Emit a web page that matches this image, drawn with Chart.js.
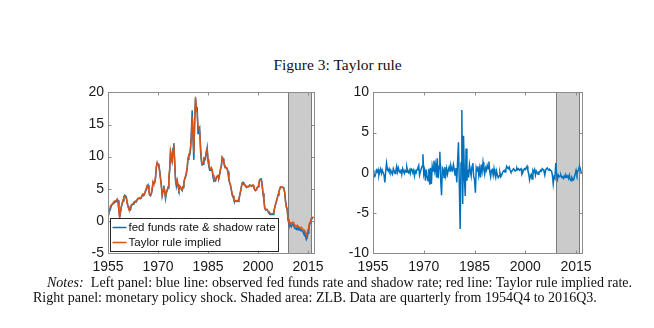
<!DOCTYPE html>
<html>
<head>
<meta charset="utf-8">
<script src="https://cdn.jsdelivr.net/npm/chart.js@4.4.1/dist/chart.umd.min.js"></script>
<style>
    html, body { margin: 0; padding: 0; background: #fff; }
    body { width: 654px; height: 328px; position: relative; overflow: hidden; }
    canvas { position: absolute; }
    #leftPanel { left: 40px; top: 80px; }
    #rightPanel { left: 330px; top: 80px; }
    .caption { position: absolute; font-family: "Liberation Serif", serif; color: #111; white-space: nowrap; }
    #title { left: 0; width: 675px; top: 56px; text-align: center; font-size: 15.5px; line-height: 18px; }
    #note1 { left: 47px; top: 274px; font-size: 13px; line-height: 16px; }
    #note2 { left: 33px; top: 289px; font-size: 13px; line-height: 16px; }
</style>
</head>
<body>
<div id="title" class="caption">Figure 3: Taylor rule</div>
<canvas id="leftPanel" width="290" height="200"></canvas>
<canvas id="rightPanel" width="270" height="200"></canvas>
<div id="note1" class="caption"><i>Notes:</i>&nbsp; Left panel: blue line: observed fed funds rate and shadow rate; red line: Taylor rule implied rate.</div>
<div id="note2" class="caption">Right panel: monetary policy shock. Shaded area: ZLB. Data are quarterly from 1954Q4 to 2016Q3.</div>

<script>
// Quarterly sample 1954Q4 - 2016Q3, each quarter plotted at its end
const sampleStart = 1955;

const xTicks = [1955, 1970, 1985, 2000, 2015];
const leftTicks = [-5, 0, 5, 10, 15, 20];
const rightTicks = [-10, -5, 0, 5, 10];

// ZLB period (2008Q4 - 2015Q4)
const zlbSpan = [2009, 2016];

const seriesLabels = ['fed funds rate & shadow rate', 'Taylor rule implied'];

// fed funds rate, shadow rate during the ZLB
const fedFunds = [
    1.0,
    1.35, 1.5, 1.9, 2.35,
    2.5, 2.7, 2.8, 2.95,
    2.95, 3.0, 3.25, 3.2,
    1.85, 0.7, 1.3, 2.15,
    2.6, 3.1, 3.6, 4.0,
    3.9, 3.7, 2.9, 2.3,
    2.0, 1.7, 1.7, 2.4,
    2.5, 2.6, 2.85, 2.9,
    2.95, 2.95, 3.3, 3.45,
    3.45, 3.5, 3.45, 3.6,
    3.95, 4.1, 4.05, 4.2,
    4.6, 4.9, 5.4, 5.6,
    4.8, 4.0, 3.9, 4.2,
    4.8, 6.0, 5.9, 5.9,
    6.6, 8.3, 9.0, 8.9,
    8.6, 7.9, 6.7, 5.6,
    3.9, 4.6, 5.5, 4.8,
    3.5, 4.3, 4.7, 5.1,
    6.5, 7.8, 10.6, 10.0,
    9.3, 11.3, 12.1, 9.4,
    6.3, 5.4, 6.2, 5.4,
    4.8, 5.2, 5.3, 4.9,
    4.7, 5.2, 5.8, 6.5,
    6.8, 7.3, 8.1, 9.6,
    10.1, 10.2, 11.0, 13.6,
    17.2, 12.7, 9.5, 15.9,
    19.0, 17.8, 17.6, 13.6,
    14.2, 14.5, 11.0, 9.3,
    8.7, 8.8, 9.5, 9.4,
    9.7, 10.6, 11.4, 9.3,
    8.5, 7.9, 7.9, 8.1,
    7.8, 6.9, 6.2, 6.3,
    6.2, 6.7, 6.8, 6.9,
    6.7, 7.2, 8.0, 8.5,
    9.9, 9.7, 9.1, 8.6,
    8.3, 8.2, 8.2, 7.7,
    6.4, 5.9, 5.6, 4.8,
    4.0, 3.8, 3.3, 3.0,
    3.0, 3.0, 3.1, 3.0,
    3.2, 3.9, 4.5, 5.2,
    5.8, 6.0, 5.8, 5.7,
    5.4, 5.2, 5.3, 5.3,
    5.3, 5.5, 5.5, 5.5,
    5.5, 5.5, 5.5, 4.9,
    4.7, 4.8, 5.1, 5.3,
    5.7, 6.3, 6.5, 6.5,
    5.6, 4.3, 3.5, 2.1,
    1.7, 1.75, 1.75, 1.45,
    1.25, 1.25, 1.0, 1.0,
    1.0, 1.0, 1.4, 1.95,
    2.5, 2.95, 3.45, 4.0,
    4.45, 4.9, 5.25, 5.25,
    5.25, 5.25, 5.05, 4.5,
    3.2, 2.1, 1.95, 0.2,
    -0.4, -0.8, -0.6, -0.9,
    -0.6, -0.5, -0.8, -1.0,
    -1.2, -1.3, -1.0, -1.4,
    -1.2, -1.3, -1.5, -1.4,
    -1.6, -1.7, -2.0, -1.9,
    -2.4, -2.9, -2.6, -1.9,
    -1.1, -0.5, -0.3, 0.2,
    0.35, 0.4, 0.4
];

// Taylor rule implied rate
const taylorRule = [
    1.2,
    1.6, 1.8, 2.3, 2.5,
    2.6, 2.8, 3.0, 3.1,
    3.1, 3.2, 3.4, 3.0,
    1.6, 0.5, 1.5, 2.3,
    2.8, 3.3, 3.8, 3.9,
    3.7, 3.5, 2.7, 2.2,
    1.8, 1.8, 1.9, 2.5,
    2.6, 2.7, 2.9, 3.0,
    3.1, 3.1, 3.3, 3.5,
    3.5, 3.6, 3.5, 3.7,
    4.0, 4.2, 4.1, 4.3,
    4.7, 5.1, 5.5, 5.4,
    4.6, 4.0, 4.0, 4.3,
    5.0, 6.1, 5.8, 6.0,
    6.8, 8.5, 9.1, 8.7,
    8.4, 7.6, 6.5, 5.4,
    4.1, 4.8, 5.3, 4.6,
    3.8, 4.5, 4.8, 5.3,
    6.8, 8.1, 10.9, 10.3,
    9.0, 11.0, 11.8, 9.0,
    6.6, 5.8, 6.3, 5.7,
    5.1, 5.4, 5.2, 5.0,
    4.9, 5.4, 6.0, 6.6,
    7.0, 7.5, 8.3, 9.9,
    10.4, 10.5, 11.4, 13.0,
    16.2, 13.8, 10.6, 15.2,
    19.3, 17.2, 16.9, 14.4,
    14.8, 13.9, 11.8, 9.8,
    8.9, 9.1, 9.8, 9.7,
    10.0, 10.9, 11.2, 9.6,
    8.8, 8.2, 8.1, 8.3,
    8.0, 7.2, 6.4, 6.5,
    6.4, 6.8, 7.0, 7.1,
    6.9, 7.4, 8.1, 8.6,
    9.8, 9.5, 9.0, 8.7,
    8.4, 8.3, 8.0, 7.5,
    6.6, 6.0, 5.5, 4.9,
    4.2, 3.9, 3.4, 3.2,
    3.1, 3.1, 3.2, 3.1,
    3.4, 4.0, 4.6, 5.3,
    5.9, 5.8, 5.7, 5.6,
    5.4, 5.4, 5.4, 5.3,
    5.4, 5.6, 5.5, 5.4,
    5.5, 5.6, 5.4, 4.8,
    4.8, 4.9, 5.2, 5.4,
    5.8, 6.4, 6.4, 6.3,
    5.4, 4.3, 3.4, 2.0,
    1.8, 1.8, 1.8, 1.5,
    1.4, 1.3, 1.1, 1.1,
    1.1, 1.2, 1.5, 2.1,
    2.6, 3.1, 3.5, 4.1,
    4.5, 5.0, 5.3, 5.2,
    5.3, 5.2, 5.0, 4.4,
    3.0, 2.3, 1.8, 0.3,
    -0.2, -0.4, -0.3, -0.6,
    -0.3, -0.2, -0.5, -0.6,
    -0.8, -0.9, -0.7, -1.0,
    -0.9, -1.0, -1.1, -1.0,
    -1.2, -1.3, -1.5, -1.5,
    -1.8, -2.3, -2.0, -1.3,
    -0.7, -0.3, -0.1, 0.4,
    0.5, 0.55, 0.6
];

// monetary policy shock
const policyShock = [
    0.3,
    -0.5, -0.5, -0.2, 0.3,
    0.1, 0.4, -0.3, 0.2,
    0.5, -0.1, 0.3, 0.0,
    -0.3, -1.2, 0.2, 1.2,
    0.4, 0.2, 0.5, 0.1,
    0.3, 0.0, -0.2, 0.5,
    0.2, -0.1, 0.3, 0.8,
    0.1, 0.6, 0.2, 0.0,
    0.4, -0.2, 0.5, 0.2,
    -0.1, 0.3, 0.1, 0.7,
    0.2, 0.0, 0.3, -0.1,
    0.5, 0.4, 0.0, 0.3,
    -0.4, 0.2, 0.0, 0.4,
    0.6, 0.9, -0.3, 0.1,
    0.5, 0.8, 2.3, -0.2,
    0.3, -1.0, 0.4, -0.5,
    -1.0, 0.5, -1.5, 0.6,
    -1.4, 0.8, 0.2, 1.5,
    0.3, 1.0, -0.6, 1.8,
    -0.7, 0.8, 2.6, -0.9,
    -2.8, 0.6, 0.4, -0.6,
    0.7, -0.3, 0.5, -0.2,
    0.3, 0.7, 0.2, 0.9,
    0.5, 0.3, 1.0, 0.4,
    -0.3, 0.6, -1.2, 1.5,
    3.8, -1.5, -7.0, 1.2,
    7.8, -3.9, 4.6, -0.5,
    -2.9, 3.0, -1.0, 0.4,
    -0.6, 1.0, 0.3, -0.4,
    0.8, 1.2, -0.5, -0.9,
    -2.5, 0.6, 0.2, 0.8,
    -0.3, 0.5, -0.6, 1.0,
    0.2, 1.3, 0.4, -0.2,
    0.6, 0.3, 0.9, 0.5,
    1.4, 0.1, -0.5, 0.3,
    0.4, -0.3, 0.5, -0.2,
    -0.6, 0.2, -0.3, -0.6,
    -0.4, 0.0, -0.5, -0.3,
    0.0, 0.2, 0.3, 0.1,
    0.4, 0.8, 0.6, 0.5,
    0.7, 0.3, 0.1, 0.2,
    0.3, 0.5, 0.4, 0.2,
    0.3, 0.6, 0.4, 0.5,
    0.3, 0.4, 0.5, -0.2,
    0.0, 0.3, 0.5, 0.4,
    0.6, 0.8, 0.3, -0.1,
    -0.9, -0.4, -0.2, -0.8,
    0.3, 0.1, 0.4, -0.3,
    0.2, 0.0, -0.2, 0.1,
    0.1, 0.3, 0.2, 0.5,
    0.4, 0.2, -0.3, 0.3,
    0.5, 0.6, 0.4, 0.3,
    0.4, 0.3, 0.2, -0.3,
    -1.4, -0.5, -0.7, 1.2,
    -0.2, -0.8, -0.3, -0.5,
    -0.4, -0.3, -0.6, -0.5,
    -0.7, -0.4, -0.6, -0.3,
    -0.5, -0.4, -0.7, -0.3,
    -0.8, -1.0, -0.6, -0.8,
    -0.9, -0.5, -0.2, 0.3,
    -0.2, 0.2, 0.4, 0.8,
    0.5, 0.0, -0.1
];

const BLUE = '#0072BD';
const RED = '#D95319';
const AXIS_COLOR = '#8c8c8c';
const TICK_FONT = { family: '"Liberation Sans", Arial, sans-serif', size: 14 };

function toPoints(values) {
    return values.map((v, i) => ({ x: sampleStart + i / 4, y: v }));
}

// Shaded ZLB band under the lines
const zlbPlugin = {
    id: 'zlb',
    beforeDatasetsDraw(chart) {
        const { ctx, chartArea, scales } = chart;
        const x0 = Math.round(scales.x.getPixelForValue(zlbSpan[0])) + 0.5;
        const x1 = Math.round(scales.x.getPixelForValue(zlbSpan[1])) + 0.5;
        ctx.save();
        ctx.fillStyle = '#cbcbcb';
        ctx.fillRect(x0, chartArea.top, x1 - x0, chartArea.bottom - chartArea.top);
        ctx.strokeStyle = '#7a7a7a';
        ctx.lineWidth = 1;
        ctx.beginPath();
        ctx.moveTo(x0, chartArea.top);
        ctx.lineTo(x0, chartArea.bottom);
        ctx.moveTo(x1, chartArea.top);
        ctx.lineTo(x1, chartArea.bottom);
        ctx.stroke();
        ctx.restore();
    }
};

// Box around the axes with inward tick marks on all four sides
const boxPlugin = {
    id: 'box',
    afterDatasetsDraw(chart) {
        const { ctx, chartArea, scales } = chart;
        const l = Math.round(chartArea.left) + 0.5;
        const r = Math.round(chartArea.right) + 0.5;
        const t = Math.round(chartArea.top) + 0.5;
        const b = Math.round(chartArea.bottom) + 0.5;
        const len = 3;
        ctx.save();
        ctx.strokeStyle = AXIS_COLOR;
        ctx.lineWidth = 1;
        ctx.strokeRect(l, t, r - l, b - t);
        ctx.beginPath();
        scales.x.ticks.forEach(tk => {
            const px = Math.round(scales.x.getPixelForValue(tk.value)) + 0.5;
            ctx.moveTo(px, b); ctx.lineTo(px, b - len);
            ctx.moveTo(px, t); ctx.lineTo(px, t + len);
        });
        scales.y.ticks.forEach(tk => {
            const py = Math.round(scales.y.getPixelForValue(tk.value)) + 0.5;
            ctx.moveTo(l, py); ctx.lineTo(l + len, py);
            ctx.moveTo(r, py); ctx.lineTo(r - len, py);
        });
        ctx.stroke();
        ctx.restore();
    }
};

// Legend box in the lower left corner of the left panel
const legendBoxPlugin = {
    id: 'legendBox',
    afterDraw(chart) {
        if (!chart.options.plugins.legendBox) return;
        const { ctx, chartArea } = chart;
        const left = Math.round(chartArea.left) + 2.5;
        const bottom = Math.round(chartArea.bottom) - 1.5;
        const w = 168, h = 33;
        const top = bottom - h;
        ctx.save();
        ctx.fillStyle = '#ffffff';
        ctx.fillRect(left, top, w, h);
        ctx.strokeStyle = '#262626';
        ctx.lineWidth = 1;
        ctx.strokeRect(left, top, w, h);
        ctx.font = '11.5px "Liberation Sans", Arial, sans-serif';
        ctx.textBaseline = 'middle';
        ctx.fillStyle = '#111';
        chart.data.datasets.forEach((ds, i) => {
            const y = top + 9 + i * 15;
            ctx.strokeStyle = ds.borderColor;
            ctx.lineWidth = 1.5;
            ctx.beginPath();
            ctx.moveTo(left + 2, y);
            ctx.lineTo(left + 16, y);
            ctx.stroke();
            ctx.fillText(ds.label, left + 18, y + 0.5);
        });
        ctx.restore();
    }
};

function axisOptions(yTicks, yMin, yMax, yWidth) {
    return {
        x: {
            type: 'linear',
            min: sampleStart,
            max: sampleStart + 247 / 4,
            afterBuildTicks: s => { s.ticks = xTicks.map(v => ({ value: v })); },
            afterFit: s => { s.height = 27; },
            grid: { display: false, drawTicks: false },
            border: { display: false },
            ticks: {
                font: TICK_FONT, color: '#1a1a1a', padding: 6,
                maxRotation: 0, autoSkip: false,
                callback: v => String(v)
            }
        },
        y: {
            min: yMin,
            max: yMax,
            afterBuildTicks: s => { s.ticks = yTicks.map(v => ({ value: v })); },
            afterFit: s => { s.width = yWidth; },
            grid: { display: false, drawTicks: false },
            border: { display: false },
            ticks: {
                font: TICK_FONT, color: '#1a1a1a', padding: 4,
                callback: v => String(v)
            }
        }
    };
}

// order: lower numbers are drawn on top
function lineDataset(label, values, color, order) {
    return {
        label: label,
        data: toPoints(values),
        borderColor: color,
        borderWidth: 1.5,
        pointRadius: 0,
        tension: 0,
        fill: false,
        order: order
    };
}

const commonPlugins = [zlbPlugin, boxPlugin, legendBoxPlugin];

new Chart(document.getElementById('leftPanel'), {
    type: 'line',
    data: {
        datasets: [
            lineDataset(seriesLabels[0], fedFunds, BLUE, 2),
            lineDataset(seriesLabels[1], taylorRule, RED, 1)
        ]
    },
    options: {
        responsive: false,
        animation: false,
        devicePixelRatio: 1,
        layout: { padding: { top: 10, right: 15, left: 0, bottom: 0 } },
        scales: axisOptions(leftTicks, -5, 20, 68),
        plugins: { legend: { display: false }, tooltip: { enabled: false }, legendBox: true }
    },
    plugins: commonPlugins
});

new Chart(document.getElementById('rightPanel'), {
    type: 'line',
    data: {
        datasets: [lineDataset('shock', policyShock, BLUE, 1)]
    },
    options: {
        responsive: false,
        animation: false,
        devicePixelRatio: 1,
        layout: { padding: { top: 9, right: 18, left: 0, bottom: 0 } },
        scales: axisOptions(rightTicks, -10, 10, 43),
        plugins: { legend: { display: false }, tooltip: { enabled: false }, legendBox: false }
    },
    plugins: commonPlugins
});

// Size the note text so the last line has its natural width,
// then justify the first line by widening the word gaps
const note1 = document.getElementById('note1');
const note2 = document.getElementById('note2');
const baseSize = 13;
const fitted = baseSize * 564 / note2.getBoundingClientRect().width;
note1.style.fontSize = fitted.toFixed(2) + 'px';
note2.style.fontSize = fitted.toFixed(2) + 'px';
const gaps = (note1.textContent.match(/[ \u00a0]/g) || []).length;
const extra = (585 - note1.getBoundingClientRect().width) / gaps;
note1.style.wordSpacing = extra.toFixed(2) + 'px';
</script>
</body>
</html>
